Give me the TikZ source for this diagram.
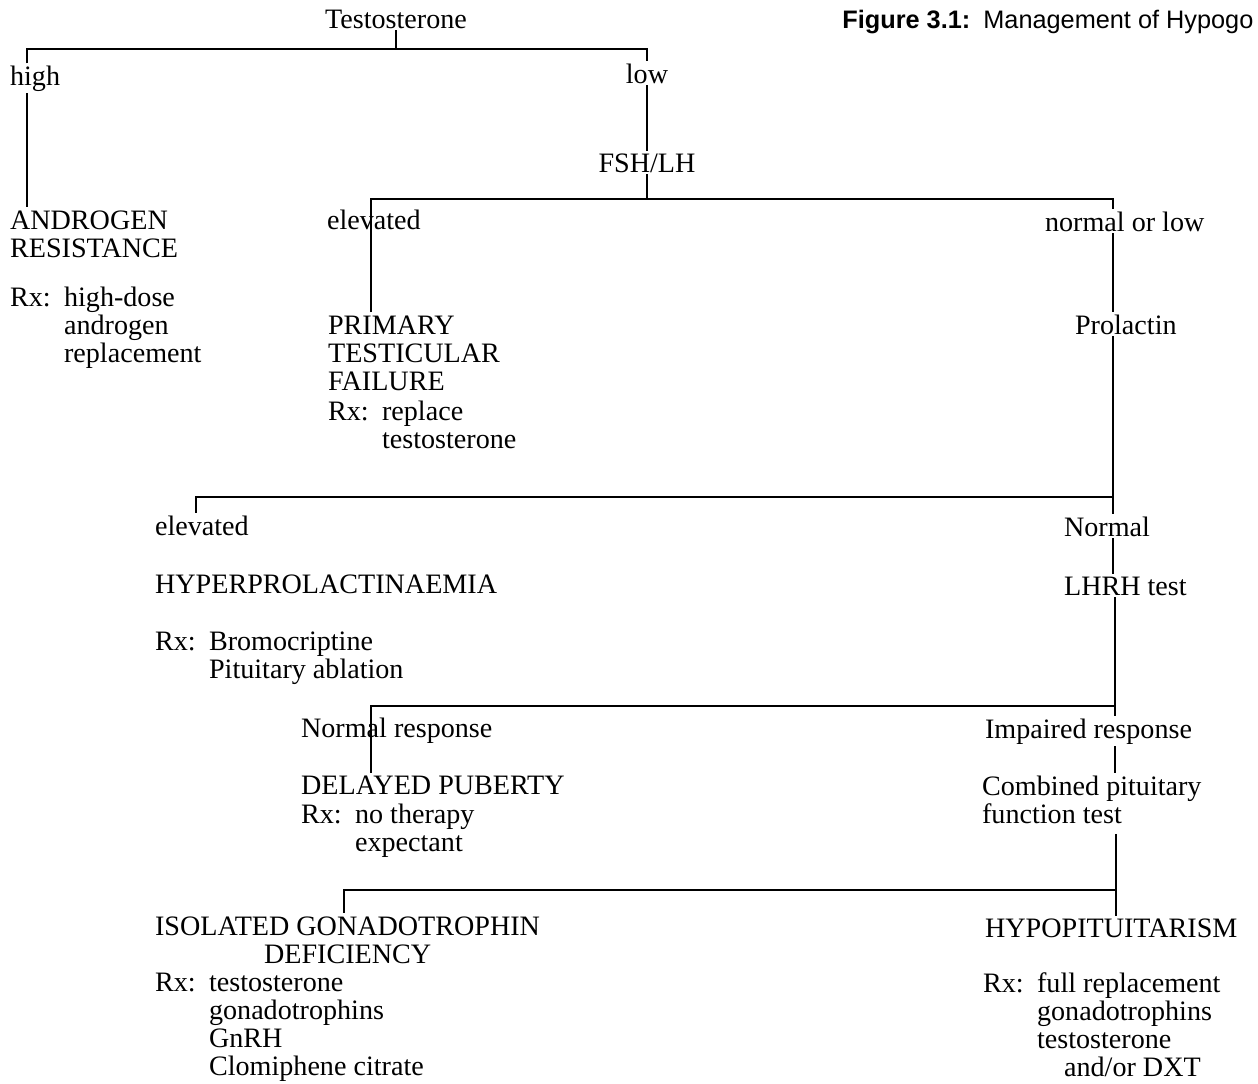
\documentclass[tikz,border=0pt]{standalone}
\usepackage{fontspec}
\setmainfont{Liberation Serif}
\newfontfamily\capfont{Liberation Sans}
\newcommand{\tstack}[1]{\begin{tabular}[t]{@{}l@{}}#1\end{tabular}}
\newcommand{\rxlist}[1]{\begin{tabular}[t]{@{}p{1.08cm}@{}l@{}}Rx: & #1\end{tabular}}
\begin{document}
\begin{tikzpicture}[
	x=0.02cm, y=-0.02cm,
	txt/.style={ anchor=base west, inner sep=1pt, font=\fontsize{16}{16}\selectfont },
	txtc/.style={ txt, anchor=base },
	captxt/.style={ anchor=base west, inner sep=0pt, font=\capfont\fontsize{14.4}{16}\selectfont },
	branch/.style={ line width=1.5pt }
]
\useasboundingbox (0,0) rectangle (1258,1083);

\node at (396,28) (testo) [txtc] {Testosterone};
\node at (842,28) (capnum) [captxt] {\bfseries Figure 3.1:};
\node at (983,28) (captitle) [captxt] {Management of Hypogo};

\node at (8,85) (high) [txt] {high};
\node at (647,83) (low) [txtc] {low};
\node at (647,172) (fsh) [txtc] {FSH/LH};
\node at (8,229) (andres) [txt] {\tstack{ANDROGEN\\RESISTANCE}};
\node at (8,306) (andrx) [txt] {\rxlist{high-dose\\ & androgen\\ & replacement}};

\node at (325,229) (elev1) [txt] {elevated};
\node at (1043,231) (normlow) [txt] {normal or low};
\node at (326,334) (primary) [txt] {\tstack{PRIMARY\\TESTICULAR\\FAILURE}};
\node at (326,420) (primrx) [txt] {\rxlist{replace\\ & testosterone}};
\node at (1073,334) (prolactin) [txt] {Prolactin};

\node at (153,535) (elev2) [txt] {elevated};
\node at (1062,536) (normal) [txt] {Normal};
\node at (153,593) (hyperpro) [txt] {HYPERPROLACTINAEMIA};
\node at (1062,595) (lhrh) [txt] {LHRH test};
\node at (153,650) (hyperrx) [txt] {\rxlist{Bromocriptine\\ & Pituitary ablation}};

\node at (299,737) (normresp) [txt] {Normal response};
\node at (983,738) (impaired) [txt] {Impaired response};
\node at (299,794) (delayed) [txt] {DELAYED PUBERTY};
\node at (299,823) (delayrx) [txt] {\rxlist{no therapy\\ & expectant}};
\node at (980,795) (combined) [txt] {\tstack{Combined pituitary\\function test}};

\node at (153,935) (isolated) [txt] {\tstack{ISOLATED GONADOTROPHIN\\\hspace*{2.18cm}DEFICIENCY}};
\node at (153,991) (isolrx) [txt] {\rxlist{testosterone\\ & gonadotrophins\\ & GnRH\\ & Clomiphene citrate}};
\node at (983,937) (hypopit) [txt] {HYPOPITUITARISM};
\node at (981,992) (hypoprx) [txt] {\rxlist{full replacement\\ & gonadotrophins\\ & testosterone\\ & \hspace*{0.54cm}and/or DXT}};

% branch points
\coordinate (b1l) at (27,49);
\coordinate (b1r) at (647,49);
\coordinate (b2l) at (371,199);
\coordinate (b2r) at (1113,199);
\coordinate (b3l) at (196,497);
\coordinate (b3r) at (1113,497);
\coordinate (b4l) at (371,706);
\coordinate (b4r) at (1115,706);
\coordinate (b5l) at (344,890);
\coordinate (b5r) at (1116,890);

\draw[branch] (testo.south) -- (testo.south |- b1l);
\draw[branch] (high.north -| b1l) -- (b1l) -- (b1r) -- (low.north -| b1r);
\draw[branch] (high.south -| b1l) -- (andres.north -| b1l);
\draw[branch] (low.south -| b1r) -- (fsh.north -| b1r);
\draw[branch] (fsh.south) -- (fsh.south |- b2l);

\draw[branch] (primary.north -| b2l) -- (b2l) -- (b2r) -- (normlow.north -| b2r);
\draw[branch] (normlow.south -| b2r) -- (prolactin.north -| b2r);
\draw[branch] (prolactin.south -| b3r) -- (b3r) -- (b3l) -- (elev2.north -| b3l);
\draw[branch] (b3r) -- (normal.north -| b3r);
\draw[branch] (normal.south -| b3r) -- (lhrh.north -| b3r);

\draw[branch] (lhrh.south -| b4r) -- (b4r) -- (b4l) -- (delayed.north -| b4l);
\draw[branch] (b4r) -- (impaired.north -| b4r);
\draw[branch] (impaired.south -| b4r) -- (combined.north -| b4r);
\draw[branch] (combined.south -| b5r) -- (b5r) -- (b5l) -- (isolated.north -| b5l);
\draw[branch] (b5r) -- (hypopit.north -| b5r);

\end{tikzpicture}
\end{document}
